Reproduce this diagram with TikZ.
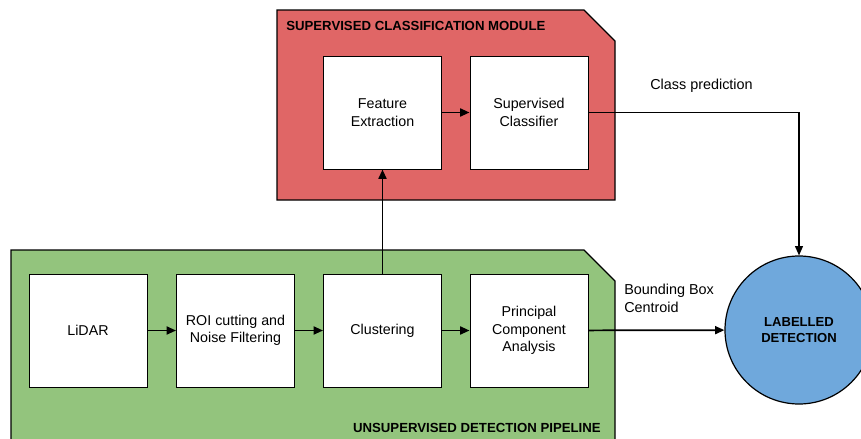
\documentclass[tikz,border=0pt]{standalone}
\usepackage{fontspec}
\setmainfont{Liberation Sans}
\usetikzlibrary{arrows.meta}
\definecolor{modred}{HTML}{E06666}
\definecolor{modgreen}{HTML}{93C47D}
\definecolor{detblue}{HTML}{6FA8DC}
\newcommand{\modpanel}[5]{
\draw[fill=#5, line width=0.9pt] (#1,#4) -- (#1,#2) -- (#3-31,#2) -- (#3,#2+31) -- (#3,#4) -- cycle;}
\tikzset{
  block/.style={draw, fill=white, line width=0.75pt, minimum width=88.5pt,
    minimum height=84.75pt, align=center, inner sep=2pt,
    font=\fontsize{10.7}{13}\selectfont},
  modtitle/.style={font=\fontsize{9.9}{11}\selectfont\bfseries, inner sep=0pt},
  flowlabel/.style={font=\fontsize{10.8}{13}\selectfont, align=left, inner sep=0pt},
  flow/.style={-{Triangle[length=7pt,width=6pt]}, line width=1.3pt},
  thinflow/.style={-{Triangle[length=7pt,width=6pt]}, line width=0.8pt}
}
\begin{document}
\begin{tikzpicture}[x=0.75pt,y=-0.75pt]
\useasboundingbox (0,0) rectangle (861,439);

% the two modules
\modpanel{277}{10}{615}{200}{modred}
\modpanel{11}{250}{615}{460}{modgreen}
\node[modtitle, anchor=west] (suptitle) at (286,26) {SUPERVISED CLASSIFICATION MODULE};
\node[modtitle, anchor=east] (unsuptitle) at (601,428) {UNSUPERVISED DETECTION PIPELINE};

% supervised part
\node[block] (feat) at (382.5,112.5) {Feature\\Extraction};
\node[block] (clf) at (529,112.5) {Supervised\\Classifier};

% unsupervised part
\node[block] (lidar) at (88,330.5) {LiDAR};
\node[block] (roi) at (235.5,330.5) {ROI cutting and\\Noise Filtering};
\node[block] (clust) at (382.5,330.5) {Clustering};
\node[block] (pca) at (529,330.5) {Principal\\Component\\Analysis};

\node[draw, circle, fill=detblue, line width=0.9pt, minimum size=111pt, align=center,
  font=\fontsize{9.8}{12}\selectfont\bfseries] (det) at (799,330) {LABELLED\\DETECTION};

\draw[flow] (lidar) -- (roi);
\draw[flow] (roi) -- (clust);
\draw[flow] (clust) -- (pca);
\draw[flow] (clust) -- (feat);
\draw[flow] (feat) -- (clf);
\draw[flow] (pca) -- (det);
\draw[thinflow] (clf.east) -| (det.north);

\node[flowlabel, anchor=west] (cplabel) at (650,86) {Class prediction};
\node[flowlabel, anchor=north west] (bblabel) at (624,284) {Bounding Box\\Centroid};
\end{tikzpicture}
\end{document}
